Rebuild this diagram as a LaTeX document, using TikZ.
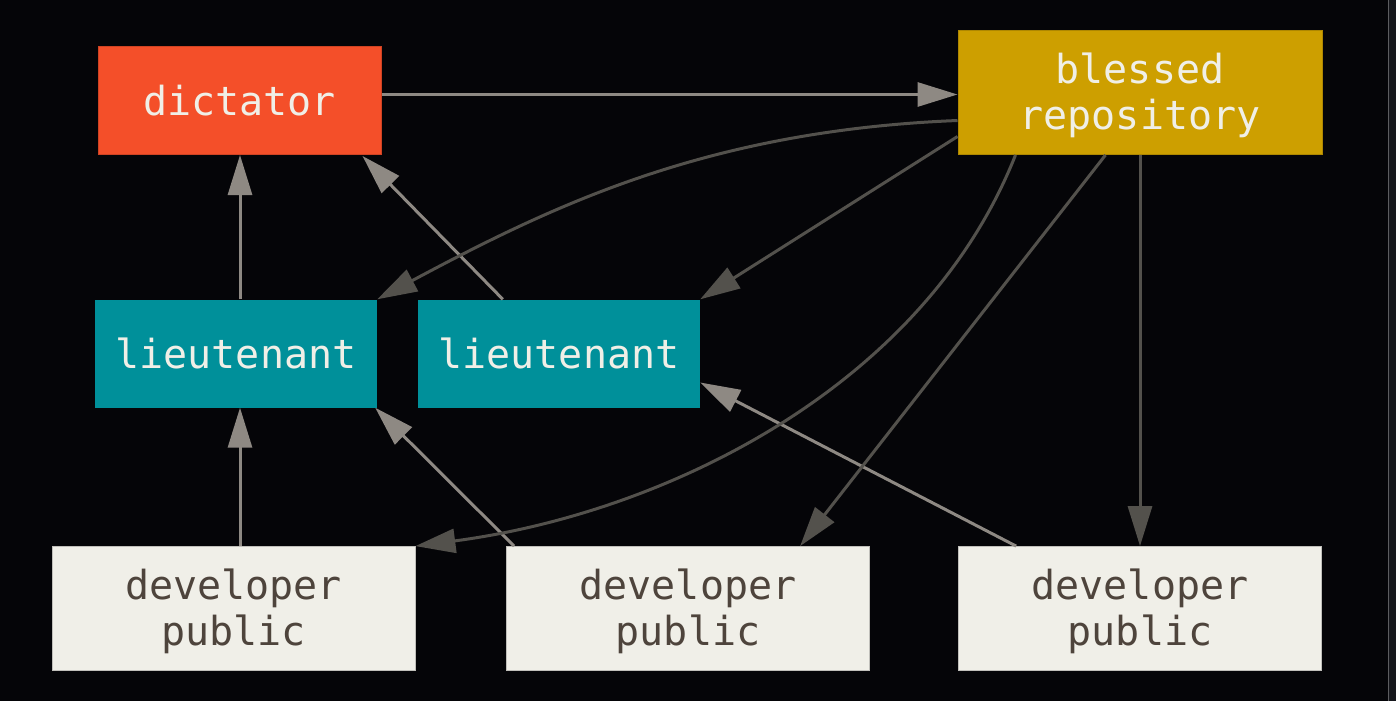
\documentclass[tikz,border=0pt]{standalone}
\usepackage{fontspec}
\setmonofont{DejaVu Sans Mono}
\usetikzlibrary{arrows.meta,calc}
\definecolor{bgc}{HTML}{050508}
\definecolor{stripc}{HTML}{16171C}
\definecolor{dictc}{HTML}{F44F29}
\definecolor{blessc}{HTML}{CD9F00}
\definecolor{ltc}{HTML}{00909A}
\definecolor{devc}{HTML}{F0EFE8}
\definecolor{devtext}{HTML}{4E443C}
\definecolor{lighttext}{HTML}{F0EFE7}
\definecolor{pushc}{HTML}{8E8983}
\definecolor{pullc}{HTML}{53514C}
\newcommand{\lowtxt}[1]{\raisebox{-3pt}[\height][\depth]{#1}}
\tikzset{
  box/.style={rectangle, inner sep=0pt, align=center, font=\ttfamily\fontsize{40}{46}\selectfont},
  dictbox/.style={box, fill=dictc, draw=dictc!85!black, line width=1pt, text=lighttext, minimum width=283pt, minimum height=108pt},
  blessbox/.style={box, fill=blessc, draw=blessc!85!black, line width=1pt, text=lighttext, minimum width=364pt, minimum height=124pt},
  ltbox/.style={box, fill=ltc, text=lighttext, minimum width=282pt, minimum height=108pt},
  devbox/.style={box, fill=devc, draw=devc!80!black, line width=0.8pt, text=devtext, minimum width=363pt, minimum height=124pt},
  push/.style={draw=pushc, line width=3pt, -{Triangle[length=40pt,width=24pt,fill=pushc]}},
  pull/.style={draw=pullc, line width=3pt, -{Triangle[length=40pt,width=24pt,fill=pullc]}},
}
\begin{document}
\begin{tikzpicture}[x=1pt,y=-1pt]
\fill[bgc] (0,0) rectangle (1396,700);
\fill[stripc] (1388,0) rectangle (1396,700);
\draw[stripc!70!white, line width=1pt] (1388.5,0) -- (1388.5,700);
\useasboundingbox (0,0) rectangle (1396,700);

\node[dictbox] (dict) at (239.5,100) {dictator};
\node[blessbox] (bless) at (1140,92) {\lowtxt{blessed}\\\lowtxt{repository}};
\node[ltbox] (lt1) at (236,353) {lieutenant};
\node[ltbox] (lt2) at (559,353) {lieutenant};
\node[devbox] (dev1) at (233.5,608) {\lowtxt{developer}\\\lowtxt{public}};
\node[devbox] (dev2) at (688,608) {\lowtxt{developer}\\\lowtxt{public}};
\node[devbox] (dev3) at (1140,608) {\lowtxt{developer}\\\lowtxt{public}};

\coordinate (d1) at ($(dict.east)+(0,-6)$);
\coordinate (l1b) at ($(lt1.south)+(4,0)$);

% pushes (light)
\draw[push] (d1) -- (d1 -| bless.west);
\draw[push] (l1b |- lt1.north) -- (l1b |- dict.south);
\draw[push] ($(lt2.north west)+(85,0)$) -- ($(dict.south east)+(-19,1)$);
\draw[push] (l1b |- dev1.north) -- (l1b);
\draw[push] ($(dev2.north west)+(8,0)$) -- ($(lt1.south east)+(-2,0)$);
\draw[push] ($(dev3.north west)+(58,0)$) -- ($(lt2.east)+(0,29)$);

% pulls (dark)
\draw[pull] ($(bless.west)+(0,28)$) .. controls +(-250,10) and +(176,-94) .. (lt1.north east);
\draw[pull] ($(bless.west)+(0,44)$) -- (lt2.north east);
\draw[pull] ($(bless.south west)+(58,0)$) .. controls +(-92,232) and +(250,-33) .. (dev1.north east);
\draw[pull] ($(bless.south west)+(148,0)$) -- ($(dev2.north west)+(294,0)$);
\draw[pull] (bless.south) -- (dev3.north);
\end{tikzpicture}
\end{document}
